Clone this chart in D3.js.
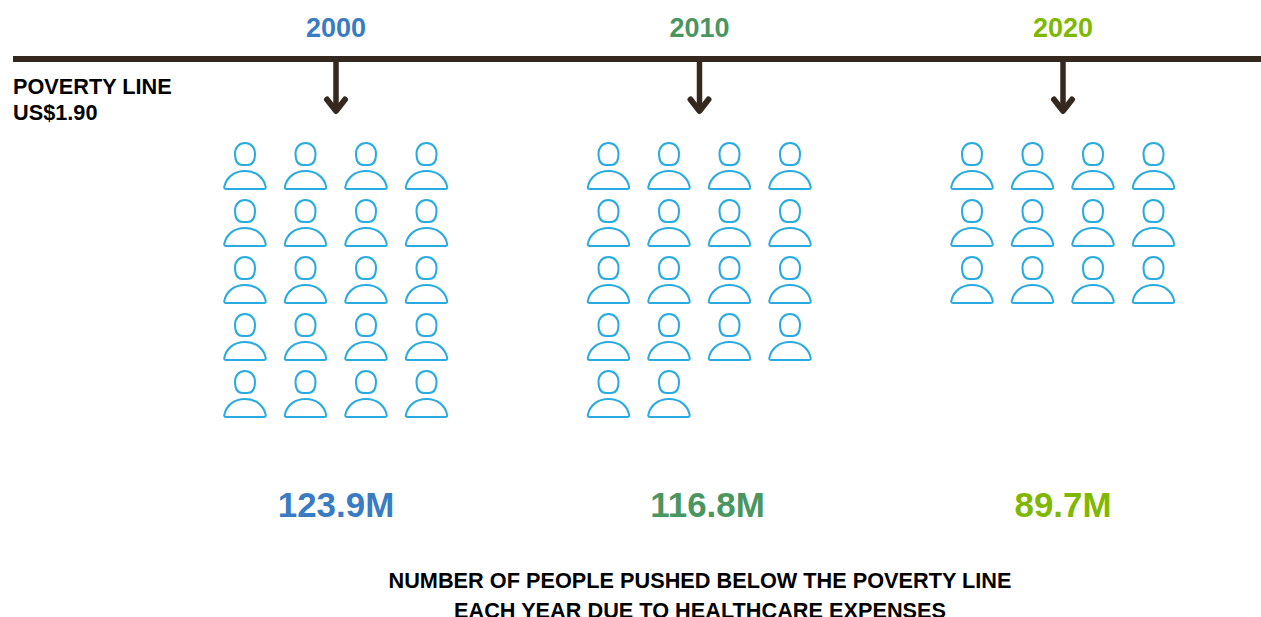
<!DOCTYPE html>
<html>
<head>
<meta charset="utf-8">
<script src="https://cdn.jsdelivr.net/npm/d3@7/dist/d3.min.js"></script>
<style>
  html, body { margin: 0; padding: 0; background: #fff; overflow: hidden; }
  svg { display: block; }
  text { font-family: "Liberation Sans", Arial, sans-serif; font-weight: 700; }
</style>
</head>
<body>
<svg id="chart" width="1261" height="617"></svg>
<script>
const years = [2000, 2010, 2020];
const peopleValues = [123.9, 116.8, 89.7];
const iconCounts = [20, 18, 12];
const yearColors = ["#3a7cc2", "#4a9660", "#7fb800"];
const lineLabel = ["POVERTY LINE", "US$1.90"];
const caption = ["NUMBER OF PEOPLE PUSHED BELOW THE POVERTY LINE", "EACH YEAR DUE TO HEALTHCARE EXPENSES"];

const W = 1261, H = 617;
const INK = "#35281e", ICON = "#29abe2";
const COLS = 4, ROWS = 5;

const svg = d3.select("#chart");

// Timeline position of each year, and the icon grid relative to that position
const x = d3.scaleLinear().domain([2000, 2020]).range([336, 1063]);
const colX = d3.scaleLinear().domain([0, COLS - 1]).range([-91, 90.5]);
const rowY = d3.scaleLinear().domain([0, ROWS - 1]).range([166, 394]);

// Slightly condensed setting for the larger bold text
const condensed = (tx, ty, k) => `translate(${tx},${ty}) scale(${k},1)`;

// Horizontal poverty line
svg.append("line")
  .attr("x1", 13).attr("x2", W).attr("y1", 59).attr("y2", 59)
  .attr("stroke", INK).attr("stroke-width", 6);

// Label under the left end of the line
svg.append("g").selectAll("text").data(lineLabel).join("text")
  .attr("transform", (d, i) => condensed(13, 94 + i * 26, 0.987))
  .attr("font-size", 22)
  .attr("fill", "#000")
  .text(d => d);

const groups = svg.append("g").selectAll("g").data(years).join("g")
  .attr("transform", d => `translate(${x(d)},0)`);

// Year headings
groups.append("text")
  .attr("y", 37)
  .attr("text-anchor", "middle")
  .attr("font-size", 27)
  .attr("fill", (d, i) => yearColors[i])
  .text(d => d);

// Arrows dropping from the line
const arrow = groups.append("g")
  .attr("fill", "none").attr("stroke", INK).attr("stroke-width", 5.5)
  .attr("stroke-linecap", "round").attr("stroke-linejoin", "round");
arrow.append("path").attr("d", "M0,60V110").attr("stroke-linecap", "butt");
arrow.append("path").attr("d", "M-9,99.5L0,111L9,99.5").attr("stroke-width", 6);

// One outlined person: head plus shoulders, centred on the grid point
function person(sel) {
  sel.append("path")
    .attr("d", "M0,-23C5.8,-23 10,-18.5 10,-12.5C10,-5 7.5,-1 2.5,-1H-2.5C-7.5,-1 -10,-5 -10,-12.5C-10,-18.5 -5.8,-23 0,-23Z");
  sel.append("path")
    .attr("d", "M-18.8,23C-20.4,23 -21,22 -20.6,20.6C-18.6,11.5 -11,5 0,5C11,5 18.6,11.5 20.6,20.6C21,22 20.4,23 18.8,23Z");
}

const icons = groups.append("g")
  .attr("fill", "#fff").attr("stroke", ICON).attr("stroke-width", 2)
  .selectAll("g")
  .data((d, i) => d3.range(iconCounts[i]))
  .join("g")
  .attr("transform", d => `translate(${colX(d % COLS)},${rowY(Math.floor(d / COLS))})`);
icons.call(person);

// Totals, with the middle figure set slightly right of its column
const valueShift = [0, 8, 0];
groups.append("text")
  .attr("transform", (d, i) => condensed(valueShift[i], 517, 0.97))
  .attr("text-anchor", "middle")
  .attr("font-size", 36)
  .attr("fill", (d, i) => yearColors[i])
  .text((d, i) => `${peopleValues[i]}M`);

// Caption at the foot of the page
svg.append("g").selectAll("text").data(caption).join("text")
  .attr("transform", (d, i) => condensed(700, 588 + i * 29.5, 0.987))
  .attr("text-anchor", "middle")
  .attr("font-size", 22)
  .attr("fill", "#000")
  .text(d => d);
</script>
</body>
</html>
